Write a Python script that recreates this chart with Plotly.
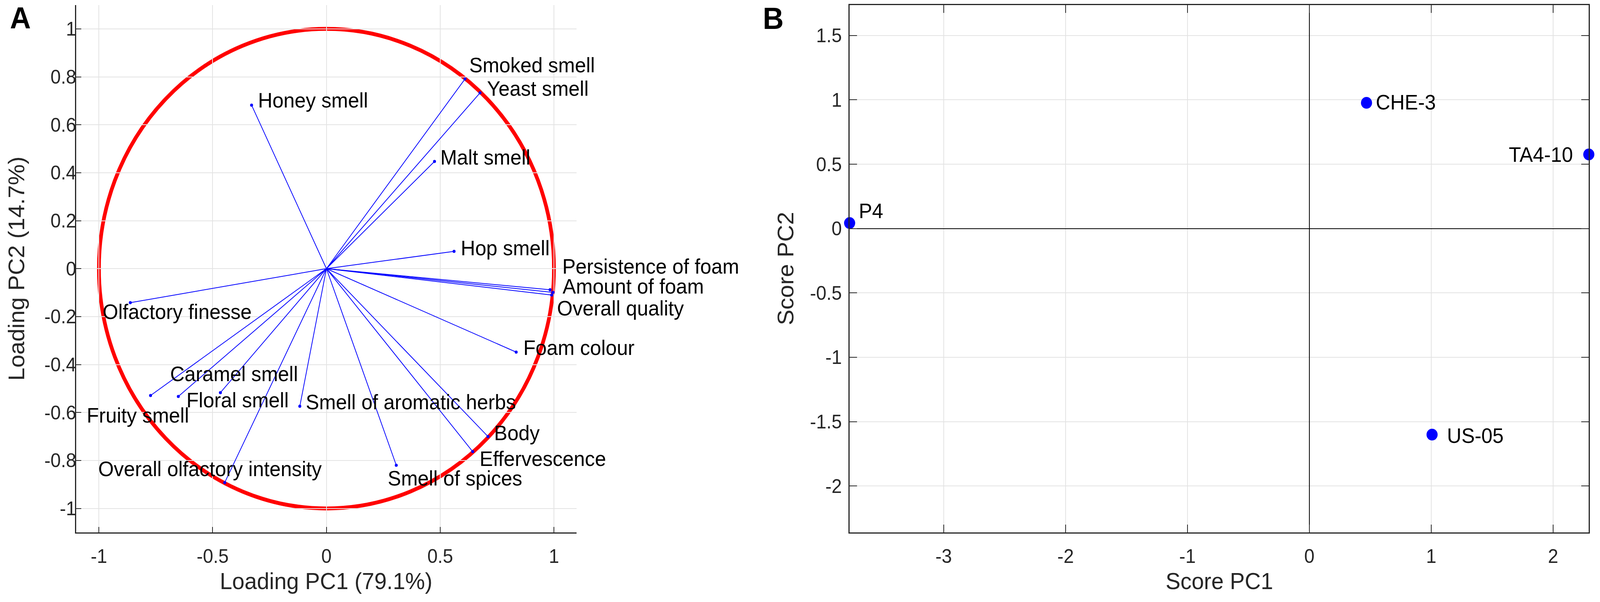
import plotly.graph_objects as go

# loadings of the sensory attributes on PC1 / PC2 (panel A)
attributes = ["Honey smell", "Smoked smell", "Yeast smell", "Malt smell", "Hop smell",
              "Persistence of foam", "Amount of foam", "Overall quality", "Foam colour",
              "Body", "Effervescence", "Smell of spices", "Smell of aromatic herbs",
              "Olfactory finesse", "Caramel smell", "Floral smell", "Fruity smell",
              "Overall olfactory intensity"]
pc1_loading = [-0.329, 0.609, 0.675, 0.475, 0.561, 0.983, 0.996, 0.990, 0.834,
               0.710, 0.643, 0.307, -0.117, -0.862, -0.466, -0.651, -0.773, -0.447]
pc2_loading = [0.682, 0.791, 0.733, 0.447, 0.072, -0.088, -0.099, -0.110, -0.348,
               -0.700, -0.763, -0.820, -0.574, -0.142, -0.517, -0.533, -0.529, -0.892]

# scores of the yeast strains (panel B)
samples = ["P4", "CHE-3", "TA4-10", "US-05"]
score_pc1 = [-3.772, 0.469, 2.293, 1.007]
score_pc2 = [0.043, 0.977, 0.576, -1.601]

# tick labels
load_x_ticks = [-1, -0.5, 0, 0.5, 1]
load_x_text = ["-1", "-0.5", "0", "0.5", "1"]
load_y_ticks = [-1, -0.8, -0.6, -0.4, -0.2, 0, 0.2, 0.4, 0.6, 0.8, 1]
load_y_text = ["-1", "-0.8", "-0.6", "-0.4", "-0.2", "0", "0.2", "0.4", "0.6", "0.8", "1"]
score_x_ticks = [-3, -2, -1, 0, 1, 2]
score_x_text = ["-3", "-2", "-1", "0", "1", "2"]
score_y_ticks = [-2, -1.5, -1, -0.5, 0, 0.5, 1, 1.5]
score_y_text = ["-2", "-1.5", "-1", "-0.5", "0", "0.5", "1", "1.5"]

# label placement (pixel shifts from the point), layout only
load_label_shift = {
    "Honey smell": (15, 13), "Smoked smell": (9, 36), "Yeast smell": (17, 12),
    "Malt smell": (14, 11), "Hop smell": (16, 9), "Persistence of foam": (31, 60),
    "Amount of foam": (24, 16), "Overall quality": (13, -33), "Foam colour": (17, 12),
    "Body": (14, 10), "Effervescence": (17, -18), "Smell of spices": (-25, -33),
    "Smell of aromatic herbs": (14, 11), "Olfactory finesse": (-77, -23),
    "Caramel smell": (-138, 48), "Floral smell": (20, -9), "Fruity smell": (-174, -50),
    "Overall olfactory intensity": (-343, 35),
}
score_label_shift = {"P4": (23, 32, "left"), "CHE-3": (23, 2, "left"),
                     "TA4-10": (-41, 0, "right"), "US-05": (38, -2, "left")}

W, H = 4317, 1540
FONT = "Liberation Sans, Arial, Helvetica, sans-serif"
AX = "#262626"
GRID = "#e3e3e3"
LABEL_SIZE = 54

fig = go.Figure()

# loading vectors from the origin
vx, vy = [], []
for a, b in zip(pc1_loading, pc2_loading):
    vx += [0, a, None]
    vy += [0, b, None]
fig.add_trace(go.Scatter(x=vx, y=vy, mode="lines", line=dict(color="#0000ff", width=2),
                         hoverinfo="skip", showlegend=False, xaxis="x", yaxis="y"))
fig.add_trace(go.Scatter(x=pc1_loading, y=pc2_loading, mode="markers", text=attributes,
                         marker=dict(color="#0000ff", size=8), showlegend=False,
                         xaxis="x", yaxis="y"))

# scores
fig.add_trace(go.Scatter(x=score_pc1, y=score_pc2, mode="markers", text=samples,
                         marker=dict(color="#0000ff", size=30), cliponaxis=False,
                         showlegend=False, xaxis="x2", yaxis="y2"))

# unit correlation circle
fig.add_shape(type="circle", xref="x", yref="y", x0=-1, y0=-1, x1=1, y1=1,
              line=dict(color="#ff0000", width=10), layer="below")

ann = []
for name, a, b in zip(attributes, pc1_loading, pc2_loading):
    dx, dy = load_label_shift[name]
    ann.append(dict(x=a, y=b, xref="x", yref="y", text=name, showarrow=False,
                    xanchor="left", yanchor="middle", xshift=dx, yshift=dy,
                    font=dict(family=FONT, size=LABEL_SIZE, color="black")))
for name, a, b in zip(samples, score_pc1, score_pc2):
    dx, dy, anc = score_label_shift[name]
    ann.append(dict(x=a, y=b, xref="x2", yref="y2", text=name, showarrow=False,
                    xanchor=anc, yanchor="middle", xshift=dx, yshift=dy,
                    font=dict(family=FONT, size=LABEL_SIZE, color="black")))

# panel letters and axis titles
ann += [
    dict(x=25 / W, y=1 - 46 / H, xref="paper", yref="paper", text="<b>A</b>", showarrow=False,
         xanchor="left", yanchor="middle", font=dict(family=FONT, size=78, color="black")),
    dict(x=2056 / W, y=1 - 47 / H, xref="paper", yref="paper", text="<b>B</b>", showarrow=False,
         xanchor="left", yanchor="middle", font=dict(family=FONT, size=78, color="black")),
    dict(x=880 / W, y=1 - 1486 / H, xref="paper", yref="paper", text="Loading PC1 (79.1%)",
         showarrow=False, xanchor="center", yanchor="middle",
         font=dict(family=FONT, size=60, color=AX)),
    dict(x=44 / W, y=1 - 687 / H, xref="paper", yref="paper", text="Loading PC2 (14.7%)",
         showarrow=False, xanchor="center", yanchor="middle", textangle=-90,
         font=dict(family=FONT, size=60, color=AX)),
    dict(x=3290 / W, y=1 - 1486 / H, xref="paper", yref="paper", text="Score PC1",
         showarrow=False, xanchor="center", yanchor="middle",
         font=dict(family=FONT, size=60, color=AX)),
    dict(x=2120 / W, y=1 - 687 / H, xref="paper", yref="paper", text="Score PC2",
         showarrow=False, xanchor="center", yanchor="middle", textangle=-90,
         font=dict(family=FONT, size=60, color=AX)),
]

tick_font = dict(family=FONT, size=50, color=AX)
y_dom = [1 - 1362 / H, 1 - 12.5 / H]

fig.update_layout(
    width=W, height=H, margin=dict(l=0, r=0, t=0, b=0),
    paper_bgcolor="white", plot_bgcolor="white", showlegend=False,
    annotations=ann,
    xaxis=dict(domain=[205.5 / W, 1556 / W], range=[-1.1, 1.1], tickvals=load_x_ticks,
               ticktext=load_x_text, ticks="inside", ticklen=14, tickwidth=2, tickcolor=AX,
               showline=True, linecolor=AX, linewidth=2.5, showgrid=True, gridcolor=GRID,
               gridwidth=2, zeroline=False, tickfont=tick_font, ticklabelstandoff=15,
               anchor="y"),
    yaxis=dict(domain=y_dom, range=[-1.1, 1.1], tickvals=load_y_ticks, ticktext=load_y_text,
               ticks="inside", ticklen=14, tickwidth=2, tickcolor=AX, showline=True,
               linecolor=AX, linewidth=2.5, showgrid=True, gridcolor=GRID, gridwidth=2,
               zeroline=False, tickfont=tick_font, ticklabelstandoff=-13, anchor="x"),
    xaxis2=dict(domain=[2292.4 / W, 4286.8 / W], range=[-3.772, 2.293], tickvals=score_x_ticks,
                ticktext=score_x_text, ticks="inside", ticklen=20, tickwidth=2, tickcolor=AX,
                showline=True, mirror="ticks", linecolor=AX, linewidth=3, showgrid=True,
                gridcolor=GRID, gridwidth=2, zeroline=True, zerolinecolor="black",
                zerolinewidth=2, tickfont=tick_font, ticklabelstandoff=15, anchor="y2"),
    yaxis2=dict(domain=y_dom, range=[-2.361, 1.738], tickvals=score_y_ticks,
                ticktext=score_y_text, ticks="inside", ticklen=20, tickwidth=2, tickcolor=AX,
                showline=True, mirror="ticks", linecolor=AX, linewidth=3, showgrid=True,
                gridcolor=GRID, gridwidth=2, zeroline=True, zerolinecolor="black",
                zerolinewidth=2, tickfont=tick_font, ticklabelstandoff=8, anchor="x2"),
)

# scale the fixed 4317x1540 figure to the window it is shown in (no margin, no scrollbars)
fit_page = ("var gd=document.getElementById('{plot_id}');"
            "document.body.style.margin='0';"
            "document.documentElement.style.overflow='hidden';"
            "gd.style.transformOrigin='0 0';"
            "gd.style.transform='scale('+(window.innerWidth/4317)+','+(window.innerHeight/1540)+')';")

fig.write_html("out.html", config={"displayModeBar": False}, post_script=fit_page)
